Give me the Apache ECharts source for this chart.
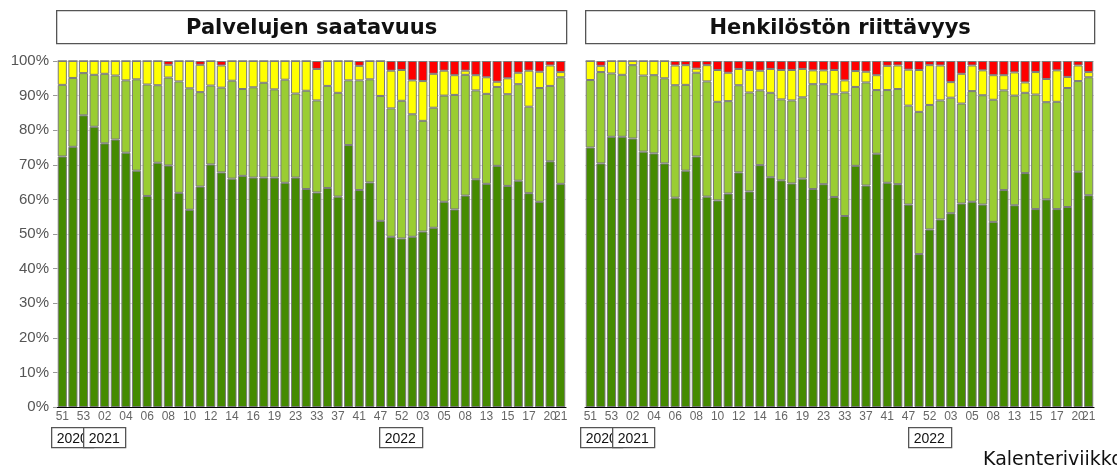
<!DOCTYPE html>
<html>
<head>
<meta charset="utf-8">
<script src="https://cdn.jsdelivr.net/npm/echarts@6/dist/echarts.min.js"></script>
<style>
  html, body { margin: 0; padding: 0; background: #fff; }
  #chart { width: 1117px; height: 471px; }
</style>
</head>
<body>
<div id="chart"></div>
<script>
// week numbers 2020/51 .. 2022/21
const weeks = ['51', '52', '53', '01', '02', '03', '04', '05', '06', '07', '08', '09',
  '10', '11', '12', '13', '14', '15', '16', '18', '19', '21', '23', '26',
  '33', '35', '37', '39', '41', '44', '47', '50', '52', '01', '03', '04',
  '05', '07', '08', '10', '13', '14', '15', '16', '17', '19', '20', '21'];

const yTicks = [0, 10, 20, 30, 40, 50, 60, 70, 80, 90, 100];

// Palvelujen saatavuus (%)
const palvDark = [72.4, 75.2, 84.3, 81.0, 76.2, 77.3, 73.5, 68.3, 61.0, 70.6, 69.8, 61.9,
  57.0, 63.7, 70.1, 67.8, 66.0, 66.8, 66.3, 66.3, 66.3, 64.8, 66.3, 63.0,
  62.0, 63.3, 60.8, 75.7, 62.7, 64.9, 53.8, 49.2, 48.7, 49.2, 50.7, 51.8,
  59.3, 57.1, 61.1, 65.8, 64.5, 69.7, 63.9, 65.4, 61.8, 59.3, 71.0, 64.5];
const palvLight = [20.7, 19.9, 12.2, 15.0, 20.1, 18.5, 20.9, 26.4, 32.2, 22.4, 25.4, 32.2,
  35.1, 27.3, 22.8, 24.5, 28.3, 25.1, 26.1, 27.4, 25.5, 29.8, 24.3, 28.4,
  26.6, 29.5, 30.0, 18.7, 31.7, 29.8, 36.1, 37.1, 39.8, 35.4, 32.0, 34.7,
  30.7, 33.1, 34.9, 25.7, 26.0, 22.8, 26.5, 27.9, 25.0, 32.9, 21.8, 30.8];
const palvYellow = [6.9, 4.9, 3.5, 4.0, 3.7, 4.2, 5.6, 5.3, 6.8, 7.0, 3.7, 5.9,
  7.9, 7.9, 7.1, 6.4, 5.7, 8.1, 7.6, 6.3, 8.2, 5.4, 9.4, 8.6,
  9.1, 7.2, 9.2, 5.6, 4.2, 5.3, 10.1, 10.9, 8.9, 9.8, 11.5, 9.8,
  7.2, 5.7, 1.2, 4.4, 4.8, 1.5, 4.6, 3.3, 10.4, 4.7, 5.9, 1.5];
const palvRed = [0, 0, 0, 0, 0, 0, 0, 0, 0, 0, 1.1, 0,
  0, 1.1, 0, 1.3, 0, 0, 0, 0, 0, 0, 0, 0,
  2.3, 0, 0, 0, 1.4, 0, 0, 2.8, 2.6, 5.6, 5.8, 3.7,
  2.8, 4.1, 2.8, 4.1, 4.7, 6.0, 5.0, 3.4, 2.8, 3.1, 1.3, 3.2];

// Henkilöstön riittävyys (%)
const henkDark = [75.0, 70.4, 78.1, 78.1, 77.6, 73.8, 73.3, 70.4, 60.5, 68.3, 72.4, 60.8,
  59.7, 61.7, 67.8, 62.3, 69.9, 66.4, 65.5, 64.6, 66.0, 63.0, 64.4, 60.7,
  55.2, 69.7, 64.0, 73.2, 64.8, 64.4, 58.5, 44.2, 51.3, 54.2, 56.0, 58.8,
  59.3, 58.5, 53.5, 62.7, 58.3, 67.6, 57.2, 60.0, 57.2, 57.8, 68.0, 61.2];
const henkLight = [19.5, 26.4, 18.3, 17.9, 21.2, 22.0, 22.6, 24.6, 32.5, 24.8, 24.2, 33.3,
  28.5, 26.7, 25.2, 28.6, 21.6, 24.4, 23.4, 24.0, 23.5, 30.3, 28.9, 29.7,
  35.7, 22.8, 29.8, 18.4, 26.8, 27.5, 28.6, 41.1, 36.0, 34.4, 33.4, 28.9,
  32.0, 31.6, 35.3, 28.8, 31.7, 23.2, 33.1, 28.1, 31.0, 34.4, 26.2, 34.1];
const henkYellow = [5.5, 1.8, 3.6, 4.0, 1.2, 4.2, 4.1, 5.0, 5.7, 5.7, 1.2, 4.7,
  9.2, 8.2, 4.7, 6.5, 5.7, 6.9, 8.5, 8.8, 8.2, 4.0, 4.0, 7.0,
  3.5, 4.6, 3.1, 4.3, 7.0, 6.8, 10.4, 12.1, 11.5, 10.1, 4.5, 8.6,
  7.4, 7.2, 7.1, 4.4, 6.7, 3.0, 6.5, 6.7, 9.1, 3.2, 4.5, 1.5];
const henkRed = [0, 1.4, 0, 0, 0, 0, 0, 0, 1.3, 1.2, 2.2, 1.2,
  2.6, 3.4, 2.3, 2.6, 2.8, 2.3, 2.6, 2.6, 2.3, 2.7, 2.7, 2.6,
  5.6, 2.9, 3.1, 4.1, 1.4, 1.3, 2.5, 2.6, 1.2, 1.3, 6.1, 3.7,
  1.3, 2.7, 4.1, 4.1, 3.3, 6.2, 3.2, 5.2, 2.7, 4.6, 1.3, 3.2];

const colors = ['#458B00', '#9ACD32', '#FFFF00', '#FF0000'];

const chart = echarts.init(document.getElementById('chart'));

const grids = [
  { left: 57, top: 61, width: 509, height: 346 },
  { left: 585, top: 61, width: 509, height: 346 }
];

const lastIdx = weeks.length - 1;

// main axis: every other week; extra axis: only the last week (so the
// overlapping "20" and "21" both stay visible, as in the original)
function xAxisFor(i, onlyLast) {
  const label = {
    color: '#666',
    fontSize: 12,
    fontFamily: 'Liberation Sans, Arial',
    margin: 4,
    hideOverlap: false,
    interval: onlyLast ? ((idx) => idx === lastIdx) : ((idx) => idx % 2 === 0)
  };
  if (onlyLast) {
    label.showMinLabel = false;
    label.showMaxLabel = true;
  }
  return {
    type: 'category',
    gridIndex: i,
    position: 'bottom',
    offset: 0,
    data: weeks,
    axisLine: { show: !onlyLast, lineStyle: { color: '#000', width: 1.2 } },
    axisTick: { show: false },
    splitLine: { show: false },
    axisLabel: label
  };
}

function yAxisFor(i) {
  return {
    type: 'value',
    gridIndex: i,
    min: yTicks[0],
    max: yTicks[yTicks.length - 1],
    interval: 10,
    axisLine: { show: false },
    axisTick: { show: i === 0, length: 4, lineStyle: { color: '#999' } },
    axisLabel: {
      show: i === 0,
      formatter: '{value}%',
      color: '#555',
      fontSize: 15,
      fontFamily: 'Liberation Sans, Arial',
      margin: 8
    },
    splitLine: { lineStyle: { color: '#d6d6d6', width: 1 } }
  };
}

function barSeries(name, data, color, axisIdx) {
  return {
    name: name,
    type: 'bar',
    stack: 'p' + axisIdx,
    xAxisIndex: axisIdx,
    yAxisIndex: axisIdx,
    data: data,
    barCategoryGap: '14%',
    itemStyle: { color: color, borderColor: '#7a7a7a', borderWidth: 1 },
    silent: true
  };
}

const names = ['Hyvä', 'Kohtalainen', 'Heikko', 'Riittämätön'];
const palv = [palvDark, palvLight, palvYellow, palvRed];
const henk = [henkDark, henkLight, henkYellow, henkRed];

const series = [];
palv.forEach((d, k) => series.push(barSeries(names[k], d, colors[k], 0)));
henk.forEach((d, k) => series.push(barSeries(names[k], d, colors[k], 1)));

function box(x, y, w, h, text, font, centered) {
  return {
    type: 'group',
    left: x,
    top: y,
    children: [
      {
        type: 'rect',
        shape: { x: 0, y: 0, width: w, height: h },
        style: { fill: '#fff', stroke: '#555', lineWidth: 1.3 }
      },
      {
        type: 'text',
        x: centered ? w / 2 : 5,
        y: h / 2 + 1,
        style: {
          text: text,
          fill: '#111',
          font: font,
          align: centered ? 'center' : 'left',
          verticalAlign: 'middle'
        }
      }
    ]
  };
}

const titleFont = 'bold 21px "DejaVu Sans", sans-serif';
const yearFont = '14px "Liberation Sans", Arial';

chart.setOption({
  animation: false,
  backgroundColor: '#fff',
  grid: grids,
  xAxis: [xAxisFor(0, false), xAxisFor(1, false), xAxisFor(0, true), xAxisFor(1, true)],
  yAxis: [yAxisFor(0), yAxisFor(1)],
  series: series,
  graphic: [
    box(56, 10, 510, 33, 'Palvelujen saatavuus', titleFont, true),
    box(585, 10, 509, 33, 'Henkilöstön riittävyys', titleFont, true),
    box(51, 427, 42, 20, '2020', yearFont, false),
    box(83, 427, 42, 20, '2021', yearFont, false),
    box(379, 427, 43, 20, '2022', yearFont, false),
    box(580, 427, 42, 20, '2020', yearFont, false),
    box(612, 427, 42, 20, '2021', yearFont, false),
    box(908, 427, 43, 20, '2022', yearFont, false),
    {
      type: 'text',
      left: 983,
      top: 451,
      style: {
        text: 'Kalenteriviikko',
        fill: '#111',
        font: '19px "DejaVu Sans", sans-serif'
      }
    }
  ]
});
</script>
</body>
</html>
